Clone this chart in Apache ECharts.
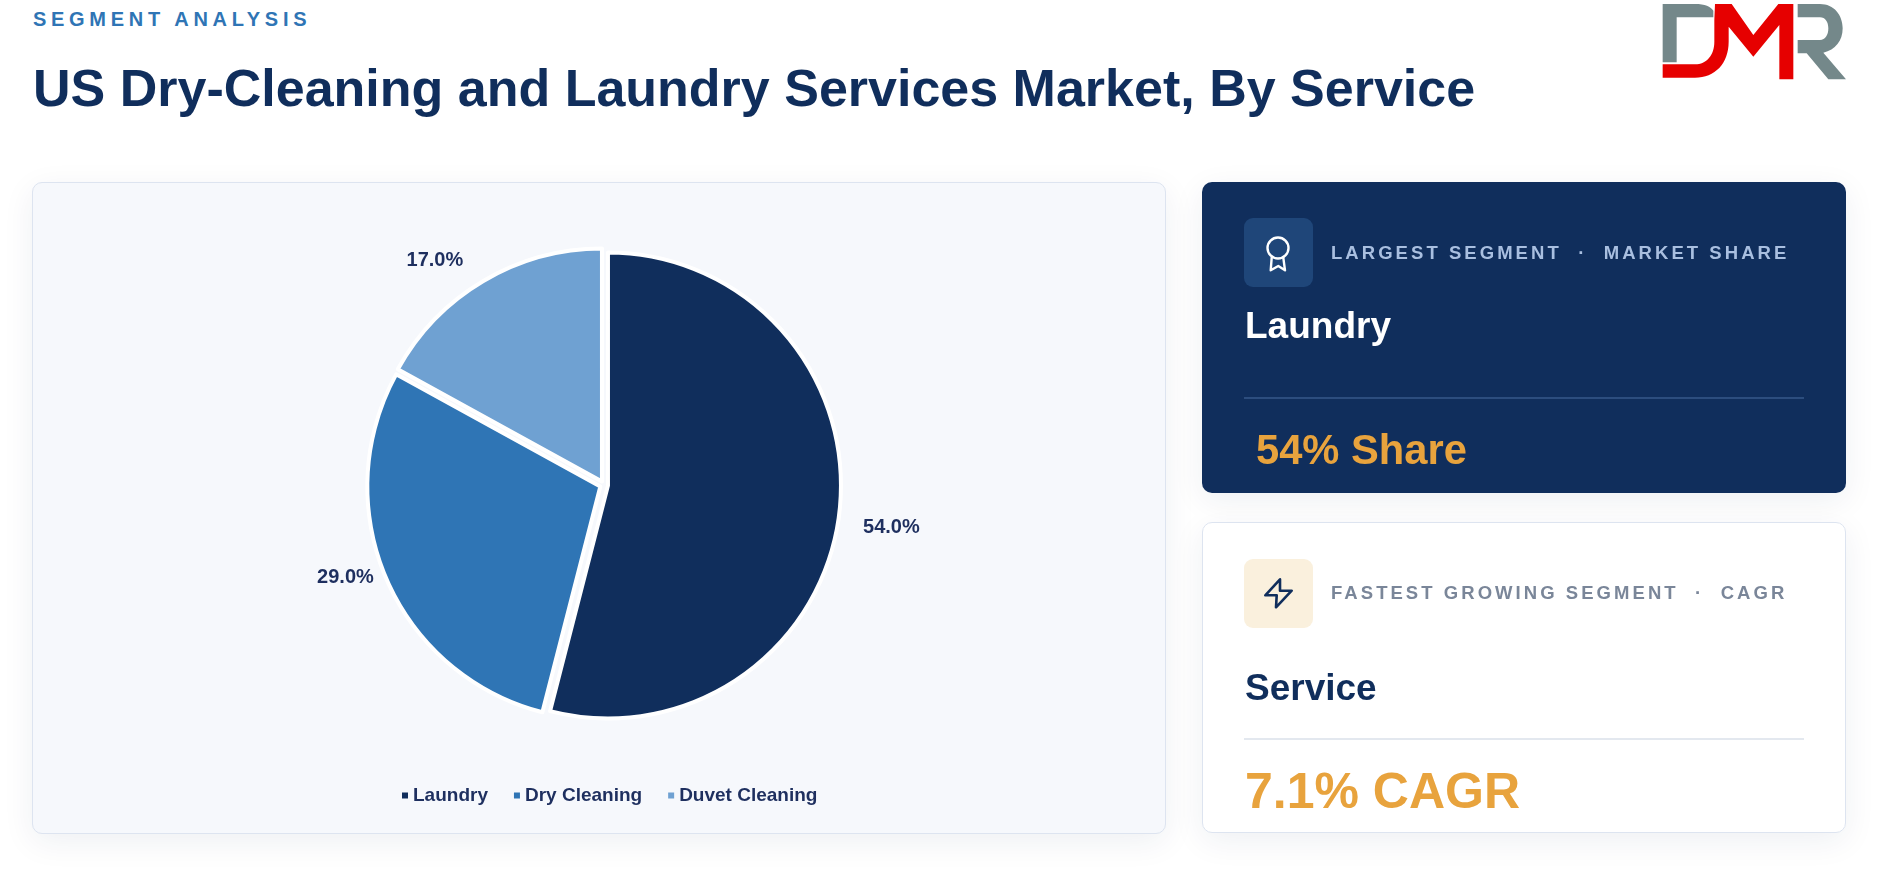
<!DOCTYPE html>
<html>
<head>
<meta charset="utf-8">
<title>US Dry-Cleaning and Laundry Services Market, By Service</title>
<script src="https://cdn.jsdelivr.net/npm/echarts@6/dist/echarts.min.js"></script>
<style>
html, body { margin: 0; padding: 0; background: #fff; overflow: hidden; }
body { width: 1884px; height: 870px; position: relative; font-family: "Liberation Sans", Arial, sans-serif; font-weight: bold; }
.t { position: absolute; line-height: 1; white-space: pre; }
.card { position: absolute; box-sizing: border-box; border-radius: 10px; box-shadow: 0 8px 32px rgba(16,46,92,0.07); }
#panel { left: 32px; top: 182px; width: 1134px; height: 652px; background: #f6f8fc; border: 1.5px solid #dde4f0; }
#chart { position: absolute; left: -1.5px; top: -1.5px; width: 1134px; height: 652px; }
#card1 { left: 1202px; top: 182px; width: 644px; height: 311px; background: #102e5c; }
#card2 { left: 1202px; top: 522px; width: 644px; height: 311px; background: #fff; border: 1.5px solid #dde4f0; }
.icon { position: absolute; width: 69px; height: 69px; border-radius: 9px; }
.rule { position: absolute; left: 1244px; width: 560px; height: 2px; }
svg { display: block; }
</style>
</head>
<body>
<div class="t" style="left:33px;top:9px;font-size:20px;letter-spacing:4.7px;color:#2f75b5">SEGMENT ANALYSIS</div>
<div class="t" style="left:33px;top:62px;font-size:52px;color:#102e5c">US Dry-Cleaning and Laundry Services Market, By Service</div>

<svg style="position:absolute;left:1650px;top:0" width="210" height="90" viewBox="0 0 630 270">
  <path fill="#74888a" d="M38 12H135C165 12 182 20 190 32V52H80V187H38Z"/>
  <path fill="#74888a" d="M443 12H510C552 12 578 45 578 85C578 122 556 150 520 158L588 238H535L470 160H443V120H510C526 120 535 105 535 85C535 66 526 52 510 52H443Z"/>
  <path fill="#e60000" d="M195 12H245L310 105L385 12H430V238H388V75L310 170L236 80V125C236 190 195 233 135 233H38V193H135C170 193 193 165 193 125V60Z"/>
</svg>

<div id="panel" class="card"><div id="chart"></div></div>

<div id="card1" class="card"></div>
<div class="icon" style="left:1244px;top:218px;background:#1f4679">
  <svg width="69" height="69" fill="none" stroke="#fff" stroke-width="2.4" stroke-linejoin="round" stroke-linecap="round">
    <circle cx="34" cy="30" r="10.5"/><path d="M27.7 39.7L26.7 52.3L34.3 48L41 52.3L39.3 39.7"/>
  </svg>
</div>
<div class="t" style="left:1331px;top:244px;font-size:18.5px;letter-spacing:3.05px;color:#a9bfe0">LARGEST SEGMENT  ·  MARKET SHARE</div>
<div class="t" style="left:1245px;top:307px;font-size:37px;color:#fff">Laundry</div>
<div class="rule" style="top:397px;background:#2c4d7e"></div>
<div class="t" style="left:1256px;top:429px;font-size:41.7px;color:#e8a33d">54% Share</div>

<div id="card2" class="card"></div>
<div class="icon" style="left:1244px;top:559px;background:#faf0dd">
  <svg width="69" height="69" fill="none" stroke="#102e5c" stroke-width="2.6" stroke-linejoin="round" stroke-linecap="round">
    <path d="M36 20.3L21.3 36.3H32.7L32 48.3L47.7 31.7H36Z"/>
  </svg>
</div>
<div class="t" style="left:1331px;top:584px;font-size:18.5px;letter-spacing:3.05px;color:#7a8699">FASTEST GROWING SEGMENT  ·  CAGR</div>
<div class="t" style="left:1245px;top:669px;font-size:37px;color:#102e5c">Service</div>
<div class="rule" style="top:738px;background:#e3e8ef"></div>
<div class="t" style="left:1245px;top:766px;font-size:50px;color:#e8a33d">7.1% CAGR</div>

<script>
var categories = ['Laundry', 'Dry Cleaning', 'Duvet Cleaning'];
var shares = [54, 29, 17];
var sliceColors = ['#102e5c', '#2f75b5', '#6fa1d2'];

var pieChart = echarts.init(document.getElementById('chart'));

var pieData = [];
for (var i = 0; i < categories.length; i++) {
    pieData.push({
        name: categories[i],
        value: shares[i],
        selected: true,
        itemStyle: { color: sliceColors[i] }
    });
}

// nudge the outside labels to where they sit in the original
var labelNudge = [[-3, 11], [13, -8], [-1, -7]];

option = {
    animation: false,
    legend: {
        bottom: 24,
        left: 365,
        icon: 'rect',
        itemWidth: 6,
        itemHeight: 6,
        itemGap: 26,
        selectedMode: false,
        itemStyle: { borderWidth: 0 },
        data: categories,
        textStyle: {
            color: '#1e2f5f',
            fontFamily: 'Liberation Sans',
            fontWeight: 'bold',
            fontSize: 19
        }
    },
    series: [
        {
            type: 'pie',
            center: [572, 303],
            radius: [0, 233],
            startAngle: 90,
            clockwise: true,
            selectedMode: 'multiple',
            selectedOffset: 4,
            silent: true,
            itemStyle: { borderColor: '#fff', borderWidth: 4 },
            label: {
                show: true,
                position: 'outside',
                formatter: function (p) { return p.value.toFixed(1) + '%'; },
                color: '#1e2f5f',
                fontFamily: 'Liberation Sans',
                fontWeight: 'bold',
                fontSize: 20
            },
            labelLine: { show: false, length: 16, length2: 6 },
            labelLayout: function (p) {
                return { dx: labelNudge[p.dataIndex][0], dy: labelNudge[p.dataIndex][1] };
            },
            data: pieData
        }
    ]
};

pieChart.setOption(option);
</script>
</body>
</html>
